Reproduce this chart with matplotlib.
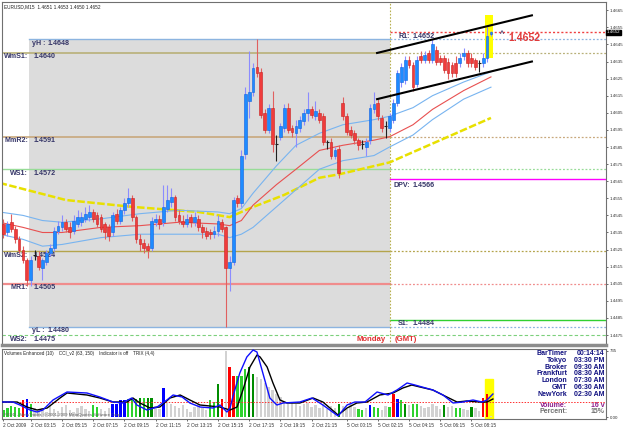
import matplotlib
matplotlib.use("Agg")
import matplotlib.pyplot as plt
from matplotlib.patches import Rectangle

plt.rcParams["font.family"] = ["Liberation Sans", "DejaVu Sans"]

# EURUSD M15, bar 0 = 2 Oct 01:15 (broker time)
opens = [1.4540, 1.4535, 1.4541, 1.4537, 1.4531, 1.4525, 1.4519, 1.4507, 1.4522, 1.4521,
         1.4514, 1.4518, 1.4523, 1.4526, 1.4536, 1.4538, 1.4541, 1.4538, 1.4536, 1.4540,
         1.4541, 1.4543, 1.4544, 1.4547, 1.4545, 1.4544, 1.4540, 1.4538, 1.4535, 1.4546,
         1.4542, 1.4548, 1.4552, 1.4555, 1.4544, 1.4531, 1.4529, 1.4527, 1.4526, 1.4541,
         1.4543, 1.4541, 1.4549, 1.4553, 1.4556, 1.4545, 1.4542, 1.4540, 1.4544, 1.4541,
         1.4543, 1.4538, 1.4536, 1.4535, 1.4534, 1.4536, 1.4541, 1.4538, 1.4514, 1.4518,
         1.4555, 1.4552, 1.4581, 1.4612, 1.4617, 1.4632, 1.4629, 1.4605, 1.4595, 1.4608,
         1.4587, 1.4591, 1.4596, 1.4608, 1.4596, 1.4593, 1.4596, 1.4600, 1.4605, 1.4607,
         1.4603, 1.4605, 1.4603, 1.4588, 1.4588, 1.4580, 1.4584, 1.4611, 1.4603, 1.4595,
         1.4593, 1.4589, 1.4587, 1.4585, 1.4589, 1.4607, 1.4611, 1.4602, 1.4597, 1.4596,
         1.4601, 1.4611, 1.4623, 1.4624, 1.4636, 1.4633, 1.4622, 1.4638, 1.4636, 1.4640,
         1.4636, 1.4642, 1.4637, 1.4637, 1.4635, 1.4633, 1.4634, 1.4634, 1.4638, 1.4640,
         1.4637, 1.4636, 1.4634, 1.4634, 1.4637, 1.4651]
highs = [1.4543, 1.4542, 1.4546, 1.4539, 1.4533, 1.4527, 1.4520, 1.4521, 1.4525, 1.4524,
         1.4520, 1.4525, 1.4528, 1.4538, 1.4542, 1.4545, 1.4543, 1.4541, 1.4545, 1.4548,
         1.4547, 1.4550, 1.4551, 1.4549, 1.4547, 1.4546, 1.4541, 1.4540, 1.4547, 1.4549,
         1.4550, 1.4555, 1.4561, 1.4557, 1.4545, 1.4534, 1.4531, 1.4529, 1.4544, 1.4546,
         1.4545, 1.4563, 1.4563, 1.4561, 1.4557, 1.4548, 1.4545, 1.4546, 1.4546, 1.4547,
         1.4545, 1.4540, 1.4538, 1.4537, 1.4539, 1.4545, 1.4543, 1.4539, 1.4521, 1.4556,
         1.4557, 1.4583, 1.4620, 1.4641, 1.4634, 1.4648, 1.4631, 1.4607, 1.4610, 1.4618,
         1.4592, 1.4599, 1.4610, 1.4611, 1.4598, 1.4601, 1.4603, 1.4607, 1.4617, 1.4609,
         1.4612, 1.4607, 1.4605, 1.4589, 1.4590, 1.4585, 1.4586, 1.4614, 1.4605, 1.4597,
         1.4595, 1.4590, 1.4589, 1.4590, 1.4610, 1.4617, 1.4613, 1.4604, 1.4600, 1.4605,
         1.4613, 1.4630, 1.4634, 1.4638, 1.4638, 1.4635, 1.4638, 1.4641, 1.4641, 1.4642,
         1.4648, 1.4644, 1.4639, 1.4639, 1.4637, 1.4635, 1.4638, 1.4640, 1.4643, 1.4642,
         1.4640, 1.4637, 1.4636, 1.4640, 1.4655, 1.4653]
lows = [1.4532, 1.4533, 1.4535, 1.4529, 1.4523, 1.4517, 1.4504, 1.4504, 1.4519, 1.4513,
        1.4507, 1.4516, 1.4521, 1.4524, 1.4534, 1.4536, 1.4535, 1.4532, 1.4534, 1.4538,
        1.4539, 1.4541, 1.4542, 1.4541, 1.4538, 1.4535, 1.4531, 1.4530, 1.4533, 1.4540,
        1.4540, 1.4546, 1.4550, 1.4542, 1.4529, 1.4524, 1.4523, 1.4520, 1.4524, 1.4539,
        1.4537, 1.4539, 1.4547, 1.4550, 1.4542, 1.4540, 1.4538, 1.4538, 1.4538, 1.4539,
        1.4536, 1.4532, 1.4531, 1.4531, 1.4532, 1.4533, 1.4535, 1.4480, 1.4501, 1.4516,
        1.4550, 1.4550, 1.4578, 1.4602, 1.4615, 1.4626, 1.4602, 1.4593, 1.4593, 1.4582,
        1.4577, 1.4589, 1.4594, 1.4593, 1.4591, 1.4585, 1.4594, 1.4598, 1.4600, 1.4602,
        1.4601, 1.4599, 1.4586, 1.4584, 1.4578, 1.4578, 1.4567, 1.4601, 1.4592, 1.4590,
        1.4587, 1.4583, 1.4584, 1.4580, 1.4587, 1.4605, 1.4601, 1.4594, 1.4590, 1.4594,
        1.4599, 1.4609, 1.4620, 1.4622, 1.4631, 1.4618, 1.4620, 1.4634, 1.4634, 1.4634,
        1.4634, 1.4633, 1.4633, 1.4628, 1.4625, 1.4626, 1.4626, 1.4632, 1.4636, 1.4632,
        1.4632, 1.4630, 1.4629, 1.4632, 1.4635, 1.4650]
closes = [1.4534, 1.4540, 1.4537, 1.4531, 1.4525, 1.4519, 1.4507, 1.4519, 1.4522, 1.4515,
          1.4519, 1.4523, 1.4526, 1.4536, 1.4539, 1.4541, 1.4537, 1.4535, 1.4542, 1.4544,
          1.4544, 1.4546, 1.4547, 1.4543, 1.4540, 1.4537, 1.4535, 1.4533, 1.4545, 1.4542,
          1.4548, 1.4552, 1.4555, 1.4544, 1.4531, 1.4528, 1.4526, 1.4525, 1.4542, 1.4543,
          1.4540, 1.4550, 1.4554, 1.4556, 1.4544, 1.4542, 1.4540, 1.4543, 1.4541, 1.4544,
          1.4538, 1.4535, 1.4533, 1.4534, 1.4536, 1.4542, 1.4537, 1.4514, 1.4518, 1.4554,
          1.4552, 1.4580, 1.4616, 1.4617, 1.4631, 1.4628, 1.4604, 1.4595, 1.4608, 1.4587,
          1.4587, 1.4597, 1.4608, 1.4595, 1.4594, 1.4597, 1.4601, 1.4605, 1.4607, 1.4604,
          1.4606, 1.4601, 1.4588, 1.4588, 1.4580, 1.4583, 1.4570, 1.4603, 1.4594, 1.4592,
          1.4589, 1.4586, 1.4587, 1.4588, 1.4608, 1.4610, 1.4603, 1.4596, 1.4597, 1.4603,
          1.4611, 1.4628, 1.4632, 1.4636, 1.4633, 1.4620, 1.4636, 1.4636, 1.4639, 1.4636,
          1.4645, 1.4635, 1.4635, 1.4630, 1.4628, 1.4628, 1.4628, 1.4637, 1.4640, 1.4634,
          1.4634, 1.4632, 1.4634, 1.4637, 1.4650, 1.4652]

volumes = [75, 97, 120, 110, 97, 185, 205, 150, 100, 80,
           100, 60, 120, 90, 70, 110, 130, 80, 60, 100,
           120, 90, 70, 130, 110, 90, 70, 100, 150, 150,
           185, 185, 200, 200, 205, 210, 210, 210, 210, 120,
           90, 325, 160, 140, 120, 100, 130, 90, 60, 110,
           140, 100, 80, 185, 165, 370, 200, 735, 560, 455,
           455, 455, 530, 560, 475, 450, 420, 380, 330, 300,
           260, 220, 160, 140, 170, 150, 120, 140, 160, 110,
           130, 100, 150, 90, 120, 100, 150, 120, 90, 140,
           110, 85, 75, 100, 130, 110, 100, 80, 120, 110,
           260, 205, 190, 150, 130, 150, 150, 120, 100, 110,
           140, 120, 90, 130, 110, 120, 100, 100, 90, 80,
           110, 100, 70, 215, 260, 16]
# g = green, d = dark green, r = red, b = blue, n = neutral grey
vol_kind = ("gggggrbgnn" "nnnnnnnnnn" "nnnggnnnbb" "bbgggdgddn" "nbnnnnnnnn"
            "nnnggdrnrr" "gggddnnnnn" "nnnnnnnnnn" "nnnnnndnnn" "nggnbggnng"
            "rbgdnggnnn" "nnndnnggnn" "dnnrrn")

# price levels (pivot indicator)
level_names = ["yH :", "WmS1:", "MmR2:", "WS1:", "WmS2:", "MR1:", "yL :", "WS2:"]
level_values = [1.4648, 1.4640, 1.4591, 1.4572, 1.4524, 1.4505, 1.4480, 1.4475]
today_names = ["R1:", "DPV:", "S1:"]
today_values = [1.4652, 1.4566, 1.4484]

# moving averages (bar position, price)
ma_slow_x = [-1, 16, 33, 50, 58, 63, 72, 81, 86, 99, 110, 125]
ma_slow_y = [1.4564, 1.4554, 1.4550, 1.4547, 1.4544, 1.4549, 1.4557, 1.4567, 1.4569,
             1.4576, 1.4587, 1.4602]
band_x = [-1, 5, 10, 15, 25, 35, 45, 55, 58, 61, 64, 70, 75, 81, 87, 95, 99, 105, 110, 118, 125]
band_up = [1.4547, 1.4545, 1.4542, 1.4541, 1.4543, 1.4546, 1.4548, 1.4547, 1.4546, 1.4549,
           1.4558, 1.4574, 1.4586, 1.4593, 1.4598, 1.4601, 1.4603, 1.4608, 1.4615, 1.4623, 1.4629]
band_mid = [1.4541, 1.4538, 1.4535, 1.4535, 1.4538, 1.4539, 1.4541, 1.4540, 1.4539, 1.4542,
            1.4551, 1.4563, 1.4572, 1.4583, 1.4586, 1.4589, 1.4591, 1.4598, 1.4607, 1.4618, 1.4626]
band_lo = [1.4534, 1.4531, 1.4527, 1.4528, 1.4532, 1.4534, 1.4534, 1.4534, 1.4532, 1.4534,
           1.4538, 1.4550, 1.4560, 1.4572, 1.4577, 1.4580, 1.4585, 1.4592, 1.4601, 1.4613, 1.4620]

# channel drawn by hand
chan_x = [95.8, 135.5]
chan_top = [1.4640, 1.4662]
chan_bot = [1.4613, 1.4635]

# TRIX lines in the lower window
trix_bx = [-1, 2.4, 4.2, 6.8, 8.6, 10.1, 12.7, 16.3, 21.4, 24.7, 28.1, 30.6, 31.9, 32.9, 34.2,
           36.8, 39.4, 41.9, 43.5, 45.8, 47.8, 50.4, 53.7, 55.5, 57.3, 58.1, 58.8, 60.6, 62.4,
           64.0, 65.0, 66.5, 68.3, 70.1, 71.7, 76.0, 79.1, 81.9, 85.8, 88.1, 90.1, 92.7, 95.8,
           98.6, 100.9, 103.5, 105.5, 110.1, 112.7, 115.3, 117.8, 120.4, 122.7, 124.0, 125.5]
trix_b = [0.0, 0.0, -0.3, -0.8, -1.0, -0.8, 0.2, 1.0, 0.9, 0.5, 0.0, -0.1, 0.2, 0.4, -0.3,
          -0.8, -0.5, 0.2, 0.7, 0.5, -0.1, -0.5, -0.6, -0.3, -1.0, -0.6, 0.5, 2.9, 4.5,
          5.2, 5.0, 2.9, 0.4, -0.3, -0.1, 0.0, 0.4, -0.3, -1.4, -0.3, 0.0, 0.0, 1.0,
          0.7, 1.2, 1.9, 1.7, 1.2, 0.7, -0.1, 0.0, 0.2, 0.0, 0.2, 0.8]
trix_kx = [-1, 3.5, 6.0, 8.6, 11.2, 14.5, 16.3, 21.4, 24.7, 28.1, 31.7, 33.2, 35.0, 37.6, 40.1,
           42.7, 45.3, 47.8, 50.4, 55.5, 58.1, 59.9, 61.4, 63.2, 65.0, 65.8, 67.6, 69.1, 70.9,
           72.7, 76.0, 79.4, 81.9, 85.8, 88.1, 90.6, 93.2, 96.5, 99.9, 102.4, 104.7, 106.8,
           110.1, 113.7, 116.3, 118.8, 122.2, 124.0, 125.5]
trix_k = [0.0, 0.0, -0.5, -0.8, -0.6, 0.4, 0.9, 0.7, 0.4, 0.0, 0.0, 0.4, -0.1, -0.6, -0.5,
          0.4, 0.7, 0.2, -0.3, -0.5, -0.8, -0.5, 1.2, 3.5, 4.7, 4.5, 3.5, 1.9, 0.2,
          -0.1, -0.1, 0.4, 0.0, -1.3, -0.6, -0.1, 0.0, 0.7, 0.9, 1.4, 1.7, 1.5,
          1.2, 0.5, 0.0, 0.1, 0.0, 0.0, 0.3]

tick_pos = [0, 7, 15, 23, 31, 39, 47, 55, 63, 71, 79, 88, 96, 104, 112, 120]
tick_text = ["2 Oct 2009", "2 Oct 03:15", "2 Oct 05:15", "2 Oct 07:15", "2 Oct 09:15",
             "2 Oct 11:15", "2 Oct 13:15", "2 Oct 15:15", "2 Oct 17:15", "2 Oct 19:15",
             "2 Oct 21:15", "5 Oct 00:15", "5 Oct 02:15", "5 Oct 04:15", "5 Oct 06:15",
             "5 Oct 08:15"]

clock_names = ["BarTimer", "Tokyo", "Broker", "Frankfurt", "London", "GMT", "NewYork"]
clock_values = ["00:14:14", "03:30 PM", "09:30 AM", "08:30 AM", "07:30 AM", "06:30 AM", "02:30 AM"]

XL = (-0.38, 154.5)
friday_start, monday_start = 6.5, 99.1
label_col = "#343466"
lfs = 5.1

fig = plt.figure(figsize=(6.25, 4.29), dpi=100)
fig.patch.set_facecolor("white")
ax = fig.add_axes([0.0032, 0.1958, 0.9664, 0.7995])
axv = fig.add_axes([0.0032, 0.0233, 0.9664, 0.1632])
axt = axv.twinx()

ax.set_xlim(*XL)
ax.set_ylim(1.44692, 1.46698)

# previous day box
ax.add_patch(Rectangle((friday_start, level_values[6]), monday_start - friday_start,
                       level_values[0] - level_values[6], facecolor="#dcdcdc",
                       edgecolor="none", zorder=0))

lcols = ["#8cb4e0", "#b8b078", "#c8a87c", "#98dc98", "#b4a44c", "#f08c8c", "#8cb4e0", "#7cd07c"]
lwid = [1.0, 1.2, 1.2, 1.0, 1.0, 1.6, 1.0, 0.8]
for k, (name, val) in enumerate(zip(level_names, level_values)):
    start = friday_start if name in ("yH :", "yL :") else XL[0]
    if name == "WS2:":
        ax.plot([XL[0], XL[1]], [val, val], color=lcols[k], lw=lwid[k], ls=(0, (3, 2)), zorder=1)
    else:
        ax.plot([start, monday_start], [val, val], color=lcols[k], lw=lwid[k], zorder=1)
        ax.plot([monday_start, XL[1]], [val, val], color=lcols[k], lw=0.9, ls=(0, (1.5, 1.5)), zorder=1)
    if name in ("yH :", "yL :"):
        ax.text(7.2, val - 0.00003, name, fontsize=lfs, color=label_col, fontweight="bold", va="top")
        ax.text(11.4, val - 0.00003, f"{val:.4f}", fontsize=lfs, color=label_col, fontweight="bold", va="top")
    else:
        ax.text(6.3, val - 0.00003, name, fontsize=lfs, color=label_col, fontweight="bold", va="top", ha="right")
        ax.text(7.6, val - 0.00003, f"{val:.4f}", fontsize=lfs, color=label_col, fontweight="bold", va="top")

tcols = ["#f04040", "#ff00ff", "#30d030"]
tstyle = [(0, (1.5, 1.5)), "-", "-"]
for name, val, c, s in zip(today_names, today_values, tcols, tstyle):
    ax.plot([monday_start, XL[1]], [val, val], color=c, lw=1.0, ls=s, zorder=1)
    off = 0.00016 if name == "DPV:" else 0.00003
    x0 = 99.9 if name == "DPV:" else 101.2
    ax.text(x0, val - off, name, fontsize=lfs, color=label_col, fontweight="bold", va="top")
    ax.text(105.0, val - off, f"{val:.4f}", fontsize=lfs, color=label_col, fontweight="bold", va="top")

ax.axvline(monday_start, color="#b8b050", lw=0.8, ls=(0, (1.5, 1.5)), zorder=1)
ax.text(monday_start - 1.0, 1.44727, "Monday", color="#e03030", fontsize=5.6, fontweight="bold",
        ha="right", va="center")
ax.text(monday_start + 1.2, 1.44727, "(GMT)", color="#e03030", fontsize=5.6, fontweight="bold",
        ha="left", va="center")

# signal bar highlight
ax.add_patch(Rectangle((123.4, 1.4637), 2.0, 0.0025, facecolor="#ffff00", edgecolor="none", zorder=1))

# averages
ax.plot(ma_slow_x, ma_slow_y, color="#e8e000", lw=1.8, ls=(0, (3, 1)), zorder=2)
ax.plot(band_x, band_up, color="#78b4f0", lw=0.8, zorder=2)
ax.plot(band_x, band_mid, color="#e85050", lw=0.8, zorder=2)
ax.plot(band_x, band_lo, color="#78b4f0", lw=0.8, zorder=2)

# candles
for i in range(len(opens)):
    o, h, l, c = opens[i], highs[i], lows[i], closes[i]
    if abs(c - o) < 0.00005:
        ax.vlines(i, l, h, color="#202020", lw=0.8, zorder=3)
        ax.hlines(c, i - 0.4, i + 0.4, color="#202020", lw=0.8, zorder=3)
        continue
    up = c > o
    wick = "#8c8cff" if up else "#e06060"
    body = "#1e8cff" if up else "#f03c3c"
    edge = "#1060e0" if up else "#c82020"
    ax.vlines(i, l, h, color=wick, lw=0.8, zorder=3)
    ax.add_patch(Rectangle((i - 0.36, min(o, c)), 0.72, abs(c - o), facecolor=body,
                           edgecolor=edge, lw=0.4, zorder=4))

ax.plot(chan_x, chan_top, color="black", lw=1.5, zorder=5)
ax.plot(chan_x, chan_bot, color="black", lw=1.5, zorder=5)

ax.text(127.7, 1.46508, "^", fontsize=5, color=label_col, ha="center", va="center", fontweight="bold")
ax.text(129.4, 1.46488, f"{closes[-1]:.4f}", fontsize=7.6, color="#e03a3a", fontweight="bold",
        va="center")

# price axis
ticks = [1.4475 + 0.001 * k for k in range(20)]
ax.yaxis.tick_right()
ax.set_yticks(ticks)
ax.set_yticklabels([f"{t:.4f}" for t in ticks])
ax.tick_params(axis="y", labelsize=3.2, length=1.5, width=0.5, pad=1.2, colors="#303030")
ax.set_xticks([])
ax.text(1.0015, closes[-1], f"{closes[-1]:.4f}", transform=ax.get_yaxis_transform(),
        fontsize=3.2, color="white", va="center", ha="left",
        bbox=dict(boxstyle="square,pad=0.2", facecolor="black", edgecolor="black"))
ax.text(0.003, 0.992, "EURUSD,M15  %.4f %.4f %.4f %.4f" % (opens[-1], highs[-1], lows[-1], closes[-1]),
        transform=ax.transAxes, fontsize=3.4, va="top", color="#202020")
for s in ax.spines.values():
    s.set_color("#707070")
    s.set_linewidth(0.8)
ax.spines["bottom"].set_linewidth(2.5)
ax.spines["bottom"].set_color("#8c8c8c")

# lower window: volumes
kind_col = {"g": "#2ed22e", "d": "#008c00", "r": "#ff0000", "b": "#0000ff", "n": "#d2d2d2"}
axv.set_xlim(*XL)
axv.set_ylim(-22, 757)
axv.axvspan(123.4, 125.4, ymin=0, ymax=0.57, color="#ffff00", zorder=0)
axv.bar(range(len(volumes)), volumes, width=0.62, color=[kind_col[k] for k in vol_kind], zorder=1)
axv.yaxis.tick_right()
axv.set_yticks([0, 735])
axv.set_yticklabels(["0.00", "735"])
axv.tick_params(axis="y", labelsize=3.2, length=1.5, width=0.5, pad=1.2, colors="#303030")
axv.set_xticks(tick_pos)
axv.set_xticklabels(tick_text, ha="left")
axv.tick_params(axis="x", labelsize=3.4, length=1.5, width=0.5, pad=1.5, colors="#303030")
for s in axv.spines.values():
    s.set_color("#707070")
    s.set_linewidth(0.8)

axt.set_ylim(-1.7, 5.3)
axt.set_yticks([])
axt.axhline(0, color="#ff3030", lw=0.7, ls=(0, (1.5, 1.5)))
axt.plot(trix_kx, trix_k, color="black", lw=1.0)
axt.plot(trix_bx, trix_b, color="#1010ff", lw=1.0)
for s in axt.spines.values():
    s.set_visible(False)

axv.text(0.003, 0.965, "Volumes Enhanced (10)    CCI_v2 (63, 150)    Indicator is off    TRIX (4,4)",
         transform=axv.transAxes, fontsize=3.3, va="top", color="#202020")
axv.text(0.003, 0.03, "FXDD - MetaTrader, \u00a9 2001-2009 MetaQuotes Software Corp.",
         transform=axv.transAxes, fontsize=3.1, va="bottom", color="#606060")

ifs = 5.0
for k, (nm, vl) in enumerate(zip(clock_names, clock_values)):
    yy = 0.985 - k * 0.097
    axv.text(0.936, yy, nm, transform=axv.transAxes, fontsize=ifs, fontweight="bold",
             color="#101080", ha="right", va="top")
    axv.text(0.9975, yy, vl, transform=axv.transAxes, fontsize=ifs, fontweight="bold",
             color="#101080", ha="right", va="top")
axv.text(0.936, 0.245, "Volume:", transform=axv.transAxes, fontsize=ifs, fontweight="bold",
         color="#8c1c8c", ha="right", va="top")
axv.text(0.9975, 0.245, f"{volumes[-1]} v", transform=axv.transAxes, fontsize=ifs, fontweight="bold",
         color="#8c1c8c", ha="right", va="top")
axv.text(0.936, 0.155, "Percent:", transform=axv.transAxes, fontsize=ifs, fontweight="bold",
         color="#707070", ha="right", va="top")
axv.text(0.9975, 0.155, "15%", transform=axv.transAxes, fontsize=ifs, fontweight="bold",
         color="#707070", ha="right", va="top")

fig.savefig("out.png", dpi=100)
